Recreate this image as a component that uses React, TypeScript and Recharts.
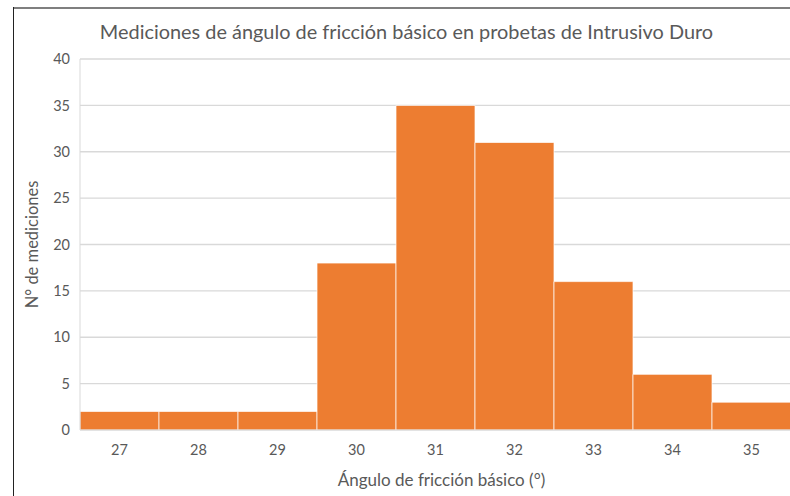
import { BarChart, Bar, CartesianGrid, XAxis, YAxis } from 'recharts';

const angulos = ['27', '28', '29', '30', '31', '32', '33', '34', '35'];
const mediciones = [2, 2, 2, 18, 35, 31, 16, 6, 3];
const yTicks = [0, 5, 10, 15, 20, 25, 30, 35, 40];

const data = angulos.map((a, i) => ({ angulo: a, n: mediciones[i] }));

const gris = '#595959';
const fuente = 'Lato, "Open Sans", sans-serif';

export default function App() {
  return (
    <div style={{ position: 'absolute', left: 0, top: 0, width: 790, height: 496, overflow: 'hidden', background: '#fff', fontFamily: fuente }}>
      <div style={{ position: 'absolute', left: 13, top: 7, width: 777, height: 2, background: '#7f7f7f' }} />
      <div style={{ position: 'absolute', left: 13, top: 7, width: 1, height: 489, background: '#222' }} />
      <div style={{ position: 'absolute', left: 0, top: 19, width: 813, textAlign: 'center', fontSize: 19.9, color: gris }}>
        Mediciones de ángulo de fricción básico en probetas de Intrusivo Duro
      </div>
      <BarChart
        width={800}
        height={496}
        data={data}
        barCategoryGap={0}
        margin={{ top: 59, right: 9, bottom: 0, left: 0 }}
        style={{ position: 'absolute', left: 0, top: 0 }}
      >
        <CartesianGrid vertical={false} stroke="#d9d9d9" strokeWidth={1.3} />
        <XAxis
          dataKey="angulo"
          height={66}
          tickLine={false}
          tickMargin={9}
          axisLine={{ stroke: '#d9d9d9' }}
          tick={{ fill: gris, fontSize: 14.5, fontFamily: fuente }}
          label={{ value: 'Ángulo de fricción básico (°)', position: 'insideBottom', offset: 10, dx: 6, fill: gris, fontSize: 17, fontFamily: fuente }}
        />
        <YAxis
          width={80}
          domain={[0, 40]}
          ticks={yTicks}
          interval={0}
          tickLine={false}
          tickMargin={4}
          axisLine={{ stroke: '#d9d9d9' }}
          tick={{ fill: gris, fontSize: 14.5, fontFamily: fuente }}
          label={{ value: 'N° de mediciones', angle: -90, position: 'insideLeft', offset: 32, fill: gris, fontSize: 16.5, fontFamily: fuente, style: { textAnchor: 'middle' } }}
        />
        <Bar dataKey="n" fill="#ED7D31" stroke="#ffffff" strokeOpacity={0.7} strokeWidth={1} isAnimationActive={false} />
      </BarChart>
    </div>
  );
}
